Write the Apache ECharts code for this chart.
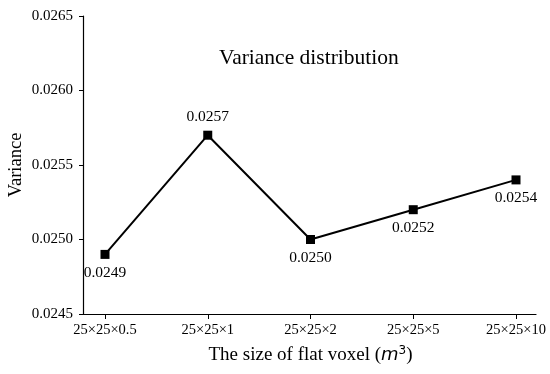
<!DOCTYPE html>
<html><head><meta charset="utf-8">
<script src="https://cdn.jsdelivr.net/npm/echarts@6/dist/echarts.min.js"></script>
<style>html,body{margin:0;padding:0;background:#fff}#c{width:550px;height:374px}</style>
</head><body><div id="c"></div>
<script>
const categories = ['25×25×0.5', '25×25×1', '25×25×2', '25×25×5', '25×25×10'];
const variance = [0.0249, 0.0257, 0.0250, 0.0252, 0.0254];
const labelPositions = ['bottom', 'top', 'bottom', 'bottom', 'bottom'];
const yMin = 0.0245, yMax = 0.0265, yStep = 0.0005;

const FONT = "'Liberation Serif', 'Times New Roman', serif";
const chart = echarts.init(document.getElementById('c'), null, {renderer: 'canvas'});
chart.setOption({
  animation: false,
  backgroundColor: '#fff',
  title: {
    text: 'Variance distribution',
    left: 214, top: 42,
    textStyle: {fontFamily: FONT, fontSize: 21.5, fontWeight: 'normal', color: '#000'}
  },
  grid: [
    {left: 105, right: 34, top: 16, bottom: 60, containLabel: false, outerBoundsMode: 'none'},
    {left: 83, right: 14, top: 16, bottom: 60, containLabel: false, outerBoundsMode: 'none'}
  ],
  xAxis: [{
    type: 'category', gridIndex: 0, data: categories, boundaryGap: false,
    axisLine: {show: false},
    axisTick: {show: true, alignWithLabel: true, length: 5, lineStyle: {color: '#000', width: 1}},
    axisLabel: {fontFamily: FONT, fontSize: 14.5, color: '#000', margin: 9, interval: 0},
    name: '{t|The size of flat voxel (}{m|m}{s|3}{t|)}',
    nameLocation: 'middle', nameGap: 31, nameMoveOverlap: false,
    nameTextStyle: {
      rich: {
        t: {fontFamily: FONT, fontSize: 19, color: '#000'},
        m: {fontFamily: "'DejaVu Sans', sans-serif", fontStyle: 'italic', fontSize: 18, color: '#000'},
        s: {fontFamily: "'DejaVu Sans', sans-serif", fontSize: 12, color: '#000', verticalAlign: 'top', padding: [0, 0, 8, 0]}
      }
    }
  }, {
    type: 'value', gridIndex: 1, min: 0, max: 1,
    axisLine: {show: true, onZero: false, lineStyle: {color: '#000', width: 1.2}},
    axisTick: {show: false}, axisLabel: {show: false}, splitLine: {show: false}
  }],
  yAxis: [{
    type: 'value', gridIndex: 0, min: yMin, max: yMax, interval: yStep, offset: 22,
    axisLine: {show: true, lineStyle: {color: '#000', width: 1.2}},
    axisTick: {show: true, length: 4, lineStyle: {color: '#000'}},
    splitLine: {show: false},
    axisLabel: {fontFamily: FONT, fontSize: 15, color: '#000', margin: 10,
      formatter: v => v.toFixed(4)},
    name: 'Variance', nameLocation: 'middle', nameGap: 57, nameRotate: 90, nameMoveOverlap: false,
    nameTextStyle: {fontFamily: FONT, fontSize: 18.5, color: '#000'}
  }, {
    type: 'value', gridIndex: 1, show: false, min: 0, max: 1
  }],
  series: [{
    type: 'line', xAxisIndex: 0, yAxisIndex: 0,
    data: variance.map((v, i) => ({value: v, label: {position: labelPositions[i]}})),
    symbol: 'rect', symbolSize: 9,
    itemStyle: {color: '#000'},
    lineStyle: {color: '#000', width: 2},
    label: {show: true, fontFamily: FONT, fontSize: 15.5, color: '#000', distance: 6,
      formatter: p => p.value.toFixed(4)}
  }]
});
</script></body></html>
